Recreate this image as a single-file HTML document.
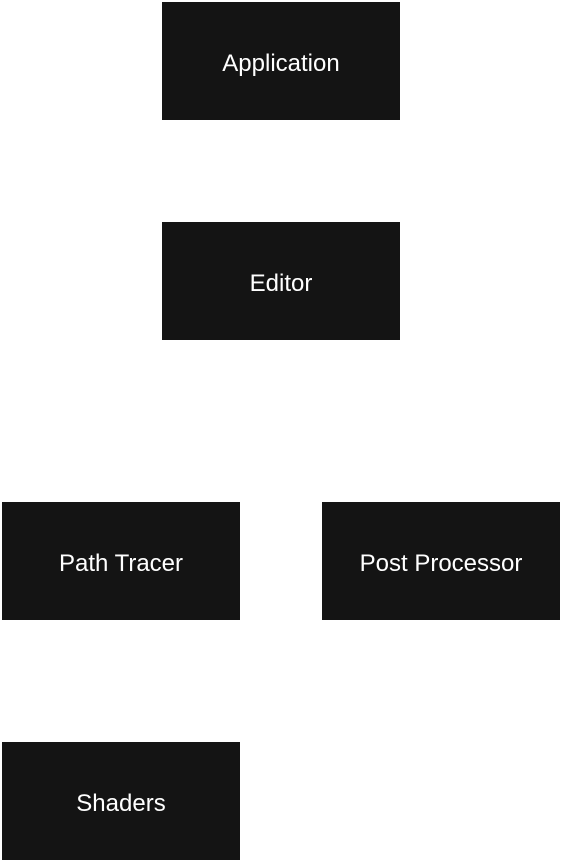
<!DOCTYPE html>
<html><head><meta charset="utf-8"><style>
html,body{margin:0;padding:0;background:#fff;width:562px;height:862px;overflow:hidden;position:relative}
.b{position:absolute;width:238px;height:118px;box-sizing:border-box;padding-top:6px;background:#141414;color:#fff;display:flex;align-items:center;justify-content:center;font-family:"Liberation Sans",sans-serif;font-size:24px}
</style></head><body>
<div class="b" style="left:162px;top:2px">Application</div>
<div class="b" style="left:162px;top:222px">Editor</div>
<div class="b" style="left:2px;top:502px">Path Tracer</div>
<div class="b" style="left:322px;top:502px">Post Processor</div>
<div class="b" style="left:2px;top:742px">Shaders</div>
</body></html>
